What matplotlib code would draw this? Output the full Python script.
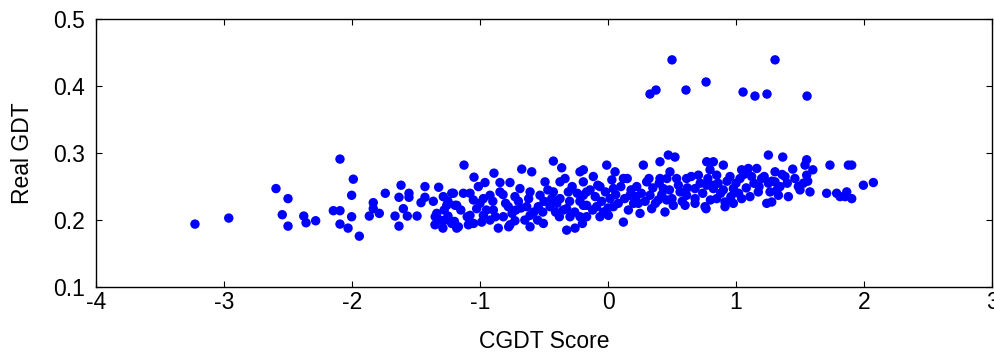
import matplotlib
matplotlib.use("Agg")
import matplotlib.pyplot as plt

plt.rcParams['font.family'] = ['Liberation Sans', 'DejaVu Sans']

# CGDT score (x) and real GDT (y) per model
cgdt_score = [
    # sparse left tail
    -3.227, -2.963, -2.594, -2.500, -2.545, -2.500, -2.377, -2.359, -2.284,
    -2.094, -1.990, -2.003, -2.146, -2.094, -2.003, -2.094, -2.031, -1.943,
    -1.865, -1.834, -1.834, -1.787, -1.740, -1.664, -1.633, -1.617, -1.633,
    -1.599, -1.555, -1.555, -1.568, -1.492, -1.461, -1.430, -1.430, -1.365,
    -1.323, -1.338, -1.352, -1.287, -1.221, -1.260, -1.273, -1.221, -1.182,
    -1.182, -1.313, -1.250, -1.200, -1.290,
    # dense middle
    -1.125, -1.047, -1.208, -1.195, -1.221, -1.169, -1.130, -1.078, -1.013,
    -0.961, -0.891, -0.844, -0.766, -1.052, -0.974, -0.922, -0.844, -1.078,
    -1.026, -0.974, -0.922, -1.091, -0.987, -0.896, -0.857, -0.818, -0.779,
    -0.766, -0.727, -0.727, -0.674, -0.688, -0.596, -0.609, -0.635, -0.609,
    -0.609, -0.531, -0.545, -0.505, -0.453, -0.492, -0.427, -0.362, -0.375,
    -0.336, -0.427, -0.375, -0.323, -0.310, -0.297, -0.323, -0.258, -0.219,
    -0.193, -0.219, -0.193, -0.167, -0.510, -0.410, -0.720, -0.776,
    -0.010, -0.193, -0.115, 0.055, 0.120, 0.042, -0.063, -0.167, -0.193,
    -0.167, -0.089, -0.036, -0.063, 0.016, 0.042, 0.003, 0.120, 0.159,
    0.172, 0.224, 0.276, 0.237, 0.250, 0.302, 0.328, 0.341, 0.406,
    0.471, 0.523, 0.484, 0.406, 0.432, 0.393, 0.458, 0.445, 0.536,
    0.563, 0.510, 0.614, 0.614, 0.602, 0.680, 0.706, 0.680, 0.771,
    0.797, 0.771, 0.758, 0.823, 0.849, 0.766,
    -1.15, -1.10, -1.05, -1.00, -0.95, -0.90, -0.88, -0.82, -0.80, -0.75,
    -0.70, -0.68, -0.65, -0.62, -0.58, -0.55, -0.50, -0.47, -0.44, -0.40,
    -0.38, -0.35, -0.30, -0.28, -0.26, -0.24, -0.22, -0.20, -0.14, -0.12,
    -0.10, -0.08, -0.05, -0.02, 0.00, 0.03, 0.06, 0.08, 0.10, 0.13,
    0.15, 0.18, 0.20, 0.22, 0.26, 0.29, 0.32, 0.35, 0.37, 0.40,
    0.42, 0.46, 0.48, 0.50, 0.55, 0.58, 0.62, 0.65, 0.68, 0.72,
    0.74, 0.78, 0.80, 0.86, 0.88, 0.93, 0.96, 1.00, 1.02, 1.06,
    1.08, 1.14, 1.18, 1.22, 1.28, 1.32, 1.36, 1.40, 1.46, 1.50,
    1.56, 1.60, -1.28, -1.25, -1.35,
    # right side
    1.253, 1.365, 1.734, 1.878, 1.552, 1.539, 1.443, 1.305, 1.162,
    1.096, 1.044, 0.901, 0.823, 0.849, 0.953, 1.031, 1.122, 1.200,
    1.305, 1.383, 1.552, 1.526, 1.487, 1.578, 1.708, 1.786, 1.852,
    1.344, 1.253, 1.266, 1.331, 1.409, 1.279, 1.240, 1.174, 1.109,
    1.044, 0.979, 0.901, 0.914, 0.914, 0.979, 0.823,
    1.904, 1.995, 2.073, 1.865, 1.904, 1.813,
    # high-GDT group
    0.500, 0.328, 0.375, 0.609, 0.766, 1.055, 1.148, 1.242, 1.305, 1.555,
]

real_gdt = [
    0.194, 0.203, 0.247, 0.232, 0.208, 0.191, 0.206, 0.196, 0.199,
    0.291, 0.261, 0.237, 0.214, 0.214, 0.205, 0.194, 0.188, 0.176,
    0.206, 0.226, 0.217, 0.210, 0.240, 0.206, 0.191, 0.252, 0.234,
    0.217, 0.240, 0.234, 0.206, 0.206, 0.226, 0.250, 0.234, 0.228,
    0.249, 0.210, 0.193, 0.235, 0.240, 0.222, 0.200, 0.195, 0.222,
    0.188, 0.200, 0.206, 0.198, 0.188,
    0.282, 0.264, 0.240, 0.222, 0.197, 0.190, 0.240, 0.240, 0.250,
    0.256, 0.270, 0.256, 0.256, 0.230, 0.232, 0.237, 0.242, 0.207,
    0.217, 0.207, 0.200, 0.193, 0.197, 0.215, 0.188, 0.205, 0.220,
    0.193, 0.199, 0.235, 0.276, 0.247, 0.272, 0.242, 0.220, 0.207,
    0.190, 0.237, 0.220, 0.195, 0.220, 0.257, 0.288, 0.278, 0.257,
    0.262, 0.242, 0.232, 0.217, 0.242, 0.205, 0.185, 0.188, 0.272,
    0.257, 0.205, 0.237, 0.222, 0.212, 0.212, 0.215, 0.190,
    0.282, 0.275, 0.265, 0.272, 0.262, 0.247, 0.250, 0.242, 0.222,
    0.205, 0.220, 0.212, 0.205, 0.232, 0.220, 0.207, 0.197, 0.215,
    0.237, 0.250, 0.282, 0.225, 0.210, 0.257, 0.237, 0.217, 0.287,
    0.297, 0.294, 0.272, 0.262, 0.247, 0.230, 0.230, 0.212, 0.262,
    0.242, 0.222, 0.262, 0.237, 0.222, 0.247, 0.267, 0.232, 0.287,
    0.275, 0.252, 0.220, 0.247, 0.232, 0.217,
    0.215, 0.205, 0.195, 0.225, 0.215, 0.228, 0.205, 0.238, 0.225, 0.210,
    0.228, 0.218, 0.200, 0.232, 0.212, 0.200, 0.228, 0.245, 0.232, 0.225,
    0.205, 0.215, 0.228, 0.250, 0.212, 0.240, 0.228, 0.195, 0.245, 0.215,
    0.235, 0.252, 0.228, 0.242, 0.218, 0.260, 0.238, 0.225, 0.250, 0.232,
    0.262, 0.245, 0.225, 0.235, 0.240, 0.228, 0.262, 0.248, 0.225, 0.255,
    0.238, 0.262, 0.245, 0.232, 0.252, 0.228, 0.248, 0.265, 0.225, 0.255,
    0.240, 0.262, 0.230, 0.255, 0.240, 0.258, 0.235, 0.255, 0.240, 0.268,
    0.248, 0.255, 0.250, 0.265, 0.258, 0.245, 0.268, 0.255, 0.262, 0.245,
    0.258, 0.275, 0.215, 0.228, 0.205,
    0.297, 0.294, 0.282, 0.282, 0.290, 0.282, 0.276, 0.272, 0.277,
    0.277, 0.275, 0.282, 0.287, 0.267, 0.265, 0.262, 0.265, 0.262,
    0.257, 0.265, 0.267, 0.255, 0.250, 0.242, 0.240, 0.240, 0.235,
    0.250, 0.255, 0.242, 0.237, 0.235, 0.227, 0.225, 0.242, 0.235,
    0.232, 0.247, 0.245, 0.227, 0.220, 0.225, 0.252,
    0.282, 0.252, 0.256, 0.242, 0.232, 0.235,
    0.439, 0.388, 0.394, 0.394, 0.406, 0.391, 0.385, 0.388, 0.439, 0.385,
]

x_ticks = [-4, -3, -2, -1, 0, 1, 2, 3]
y_ticks = [0.1, 0.2, 0.3, 0.4, 0.5]

fig = plt.figure(figsize=(9.95, 3.58), dpi=100)
ax = fig.add_axes([0.0965, 0.198, 0.9005, 0.749])

ax.scatter(cgdt_score, real_gdt, s=46, c='#0000ff', edgecolors='none', zorder=3)

ax.set_xlim(-4, 3)
ax.set_ylim(0.1, 0.5)
ax.set_xticks(x_ticks)
ax.set_yticks(y_ticks)
ax.set_xticklabels([f"{t:g}" for t in x_ticks])
ax.set_yticklabels([f"{t:g}" for t in y_ticks])

ax.tick_params(direction='in', length=4, width=0.8, top=True, right=True,
               labelsize=16.5)
ax.tick_params(axis='x', pad=3)
ax.tick_params(axis='y', pad=8)
for sp in ax.spines.values():
    sp.set_linewidth(1.0)

ax.set_xlabel('CGDT Score', fontsize=16.5, labelpad=11)
ax.set_ylabel('Real GDT', fontsize=16.5, labelpad=14)

fig.savefig('out.png', dpi=100)
